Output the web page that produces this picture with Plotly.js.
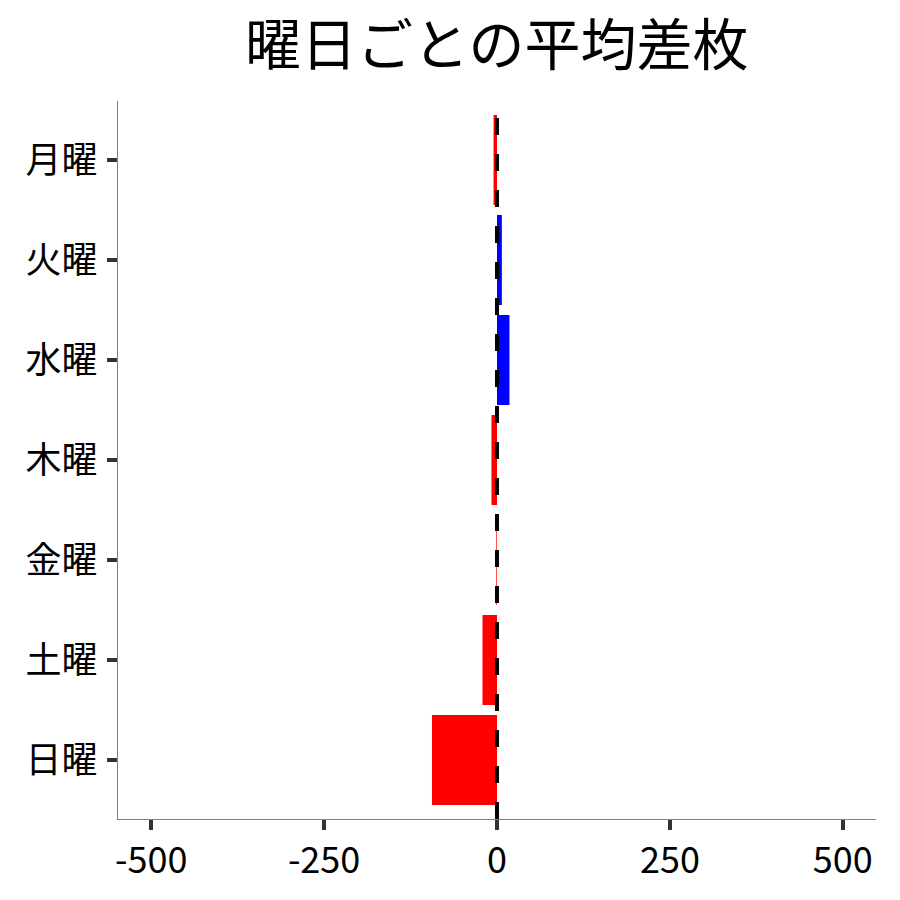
<!DOCTYPE html>
<html>
<head>
<meta charset="utf-8">
<script src="https://cdn.plot.ly/plotly-3.0.1.min.js"></script>
<style>
  html, body { margin: 0; padding: 0; background: #fff; }
  #chart { width: 900px; height: 900px; }
</style>
</head>
<body>
<div id="chart"></div>
<script>
// Average difference in medals per weekday.
const days = ["月曜", "火曜", "水曜", "木曜", "金曜", "土曜", "日曜"];
const avgDiff = [-5, 7, 18, -8, -1, -21, -94];
const xTicks = [-500, -250, 0, 250, 500];
const xTickText = ["-500", "-250", "0", "250", "500"];

const FONT = "Noto Sans CJK JP, Noto Sans, sans-serif";
// positive = blue, negative = red
const barColors = avgDiff.map((v) => (v >= 0 ? "#0000ff" : "#ff0000"));

const trace = {
  type: "bar",
  orientation: "h",
  x: avgDiff,
  y: days,
  width: 0.9,
  marker: { color: barColors, line: { width: 0 } },
  hoverinfo: "x+y",
};

const layout = {
  width: 900,
  height: 900,
  margin: { l: 118, r: 24, t: 101, b: 81 },
  paper_bgcolor: "#fff",
  plot_bgcolor: "#fff",
  showlegend: false,
  font: { family: FONT, color: "#000" },
  title: {
    text: "曜日ごとの平均差枚",
    font: { family: FONT, size: 56, color: "#000" },
    x: 0.552,
    xanchor: "center",
    y: 0.95,
    yanchor: "middle",
    yref: "container",
  },
  xaxis: {
    range: [-548, 548],
    tickvals: xTicks,
    ticktext: xTickText,
    showgrid: false,
    zeroline: false,
    showline: true,
    linecolor: "#808080",
    linewidth: 1.2,
    ticks: "outside",
    ticklen: 10,
    tickwidth: 3.5,
    tickcolor: "#333",
    tickfont: { family: FONT, size: 36, color: "#000" },
  },
  yaxis: {
    type: "category",
    categoryorder: "array",
    categoryarray: days,
    range: [6.59, -0.59],
    showgrid: false,
    zeroline: false,
    showline: true,
    linecolor: "#808080",
    linewidth: 1.2,
    ticks: "outside",
    ticklen: 10,
    tickwidth: 3.5,
    tickcolor: "#333",
    ticklabelstandoff: 2,
    tickfont: { family: FONT, size: 36, color: "#000" },
  },
  shapes: [
    {
      type: "line",
      xref: "x",
      yref: "paper",
      x0: 0,
      x1: 0,
      y0: 0,
      y1: 1,
      line: { color: "#000", width: 4, dash: "17px,19px" },
      layer: "above",
    },
  ],
};

Plotly.newPlot("chart", [trace], layout, { staticPlot: true, displayModeBar: false });
</script>
</body>
</html>
